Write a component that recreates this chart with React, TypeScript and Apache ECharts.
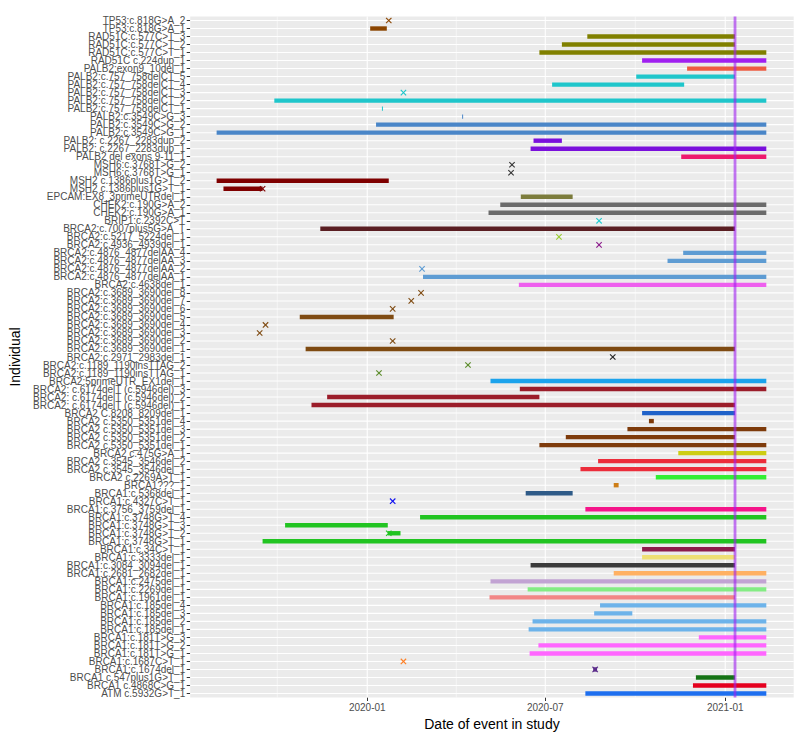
import React, { useEffect, useRef } from 'react';
import * as echarts from 'echarts';

// ---------- data ----------
const labels: string[] = [
  'TP53:c.818G>A_2', 'TP53:c.818G>A_1',
  'RAD51C:c.577C>T_3', 'RAD51C:c.577C>T_2', 'RAD51C:c.577C>T_1',
  'RAD51C c.224dup_1', 'PALB2:exon9_10del_1',
  'PALB2:c.757_758delCT_5', 'PALB2:c.757_758delCT_4', 'PALB2:c.757_758delCT_3',
  'PALB2:c.757_758delCT_2', 'PALB2:c.757_758delCT_1',
  'PALB2:c.3549C>G_3', 'PALB2:c.3549C>G_2', 'PALB2:c.3549C>G_1',
  'PALB2: c.2267_2283dup_2', 'PALB2: c.2267_2283dup_1',
  'PALB2 del exons 9-11_1',
  'MSH6:c.3768T>G_2', 'MSH6:c.3768T>G_1',
  'MSH2 c.1386plus1G>T_2', 'MSH2 c.1386plus1G>T_1',
  'EPCAM:EX8_3primeUTRdel_1',
  'CHEK2:c.190G>A_2', 'CHEK2:c.190G>A_1',
  'BRIP1:c.2392C>T',
  'BRCA2:c.7007plus5G>A_T',
  'BRCA2:c.5217_5224del_1', 'BRCA2:c.4936_4939del_1',
  'BRCA2:c.4876_4877delAA_4', 'BRCA2:c.4876_4877delAA_3',
  'BRCA2:c.4876_4877delAA_2', 'BRCA2:c.4876_4877delAA_1',
  'BRCA2:c.4638del_1',
  'BRCA2:c.3689_3690del_8', 'BRCA2:c.3689_3690del_7', 'BRCA2:c.3689_3690del_6',
  'BRCA2:c.3689_3690del_5', 'BRCA2:c.3689_3690del_4', 'BRCA2:c.3689_3690del_3',
  'BRCA2:c.3689_3690del_2', 'BRCA2:c.3689_3690del_1',
  'BRCA2:c.2971_2983del_1',
  'BRCA2:c.1189_1190insTTAG_2', 'BRCA2:c.1189_1190insTTAG_1',
  'BRCA2:5primeUTR_EX1del_1',
  'BRCA2: c.6174delT (c.5946del)_3', 'BRCA2: c.6174delT (c.5946del)_2',
  'BRCA2: c.6174delT (c.5946del)_1',
  'BRCA2 C.8208_8209del_1',
  'BRCA2 c.5350_5351del_4', 'BRCA2 c.5350_5351del_3',
  'BRCA2 c.5350_5351del_2', 'BRCA2 c.5350_5351del_1',
  'BRCA2 c.475G>A_1',
  'BRCA2 c.3545_3546del_2', 'BRCA2 c.3545_3546del_1',
  'BRCA2 c.2269A>T_1',
  'BRCA1???_1',
  'BRCA1:c.5368del_1', 'BRCA1:c.4327C>T_1', 'BRCA1:c.3756_3759del_1',
  'BRCA1:c.3748G>T_4', 'BRCA1:c.3748G>T_3', 'BRCA1:c.3748G>T_2', 'BRCA1:c.3748G>T_1',
  'BRCA1:c.34C>T_1', 'BRCA1:c.3333del_1', 'BRCA1:c.3084_3094del_1',
  'BRCA1:c.2681_2682del_1', 'BRCA1:c.2475del_1', 'BRCA1:c.2269del_1',
  'BRCA1:c.1961del_1',
  'BRCA1:c.185del_4', 'BRCA1:c.185del_3', 'BRCA1:c.185del_2', 'BRCA1:c.185del_1',
  'BRCA1:c.181T>G_3', 'BRCA1:c.181T>G_2', 'BRCA1:c.181T>G_1',
  'BRCA1:c.1687C>T_1', 'BRCA1:c.1674del_1',
  'BRCA1 c.547plus1G>T_1', 'BRCA1 c.4868C>G_1',
  'ATM c.5932G>T_1',
];

// [individual, start date, end date]
const segments: [string, string, string][] = [
  ['TP53:c.818G>A_1', '2020-01-04', '2020-01-21'],
  ['RAD51C:c.577C>T_3', '2020-08-13', '2021-01-11'],
  ['RAD51C:c.577C>T_2', '2020-07-18', '2021-01-11'],
  ['RAD51C:c.577C>T_1', '2020-06-25', '2021-02-12'],
  ['RAD51C c.224dup_1', '2020-10-08', '2021-02-12'],
  ['PALB2:exon9_10del_1', '2020-11-23', '2021-02-12'],
  ['PALB2:c.757_758delCT_5', '2020-10-02', '2021-01-11'],
  ['PALB2:c.757_758delCT_4', '2020-07-08', '2020-11-20'],
  ['PALB2:c.757_758delCT_2', '2019-09-28', '2021-02-12'],
  ['PALB2:c.757_758delCT_1', '2020-01-16', '2020-01-17'],
  ['PALB2:c.3549C>G_3', '2020-04-07', '2020-04-08'],
  ['PALB2:c.3549C>G_2', '2020-01-10', '2021-02-12'],
  ['PALB2:c.3549C>G_1', '2019-07-31', '2021-02-12'],
  ['PALB2: c.2267_2283dup_2', '2020-06-19', '2020-07-18'],
  ['PALB2: c.2267_2283dup_1', '2020-06-16', '2021-02-12'],
  ['PALB2 del exons 9-11_1', '2020-11-17', '2021-02-12'],
  ['MSH2 c.1386plus1G>T_2', '2019-07-31', '2020-01-23'],
  ['MSH2 c.1386plus1G>T_1', '2019-08-07', '2019-09-16'],
  ['EPCAM:EX8_3primeUTRdel_1', '2020-06-06', '2020-07-29'],
  ['CHEK2:c.190G>A_2', '2020-05-16', '2021-02-12'],
  ['CHEK2:c.190G>A_1', '2020-05-04', '2021-02-12'],
  ['BRCA2:c.7007plus5G>A_T', '2019-11-14', '2021-01-11'],
  ['BRCA2:c.4876_4877delAA_4', '2020-11-19', '2021-02-12'],
  ['BRCA2:c.4876_4877delAA_3', '2020-11-03', '2021-02-12'],
  ['BRCA2:c.4876_4877delAA_1', '2020-02-27', '2021-02-12'],
  ['BRCA2:c.4638del_1', '2020-06-04', '2021-02-12'],
  ['BRCA2:c.3689_3690del_5', '2019-10-24', '2020-01-28'],
  ['BRCA2:c.3689_3690del_1', '2019-10-30', '2021-01-11'],
  ['BRCA2:5primeUTR_EX1del_1', '2020-05-06', '2021-02-12'],
  ['BRCA2: c.6174delT (c.5946del)_3', '2020-06-05', '2021-02-12'],
  ['BRCA2: c.6174delT (c.5946del)_2', '2019-11-21', '2020-06-25'],
  ['BRCA2: c.6174delT (c.5946del)_1', '2019-11-05', '2021-01-11'],
  ['BRCA2 C.8208_8209del_1', '2020-10-08', '2021-01-11'],
  ['BRCA2 c.5350_5351del_4', '2020-10-15', '2020-10-20'],
  ['BRCA2 c.5350_5351del_3', '2020-09-23', '2021-02-12'],
  ['BRCA2 c.5350_5351del_2', '2020-07-22', '2021-01-11'],
  ['BRCA2 c.5350_5351del_1', '2020-06-25', '2021-02-12'],
  ['BRCA2 c.475G>A_1', '2020-11-14', '2021-02-12'],
  ['BRCA2 c.3545_3546del_2', '2020-08-24', '2021-02-12'],
  ['BRCA2 c.3545_3546del_1', '2020-08-06', '2021-02-12'],
  ['BRCA2 c.2269A>T_1', '2020-10-22', '2021-02-12'],
  ['BRCA1???_1', '2020-09-09', '2020-09-14'],
  ['BRCA1:c.5368del_1', '2020-06-11', '2020-07-29'],
  ['BRCA1:c.3756_3759del_1', '2020-08-11', '2021-02-12'],
  ['BRCA1:c.3748G>T_4', '2020-02-24', '2021-02-12'],
  ['BRCA1:c.3748G>T_3', '2019-10-09', '2020-01-22'],
  ['BRCA1:c.3748G>T_2', '2020-01-22', '2020-02-04'],
  ['BRCA1:c.3748G>T_1', '2019-09-16', '2021-02-12'],
  ['BRCA1:c.34C>T_1', '2020-10-08', '2021-01-11'],
  ['BRCA1:c.3333del_1', '2020-10-08', '2021-01-11'],
  ['BRCA1:c.3084_3094del_1', '2020-06-16', '2021-01-11'],
  ['BRCA1:c.2681_2682del_1', '2020-09-09', '2021-02-12'],
  ['BRCA1:c.2475del_1', '2020-05-06', '2021-02-12'],
  ['BRCA1:c.2269del_1', '2020-06-13', '2021-02-12'],
  ['BRCA1:c.1961del_1', '2020-05-05', '2021-01-11'],
  ['BRCA1:c.185del_4', '2020-08-26', '2021-02-12'],
  ['BRCA1:c.185del_3', '2020-08-20', '2020-09-28'],
  ['BRCA1:c.185del_2', '2020-06-18', '2021-02-12'],
  ['BRCA1:c.185del_1', '2020-06-14', '2021-02-12'],
  ['BRCA1:c.181T>G_3', '2020-12-05', '2021-02-12'],
  ['BRCA1:c.181T>G_2', '2020-06-24', '2021-02-12'],
  ['BRCA1:c.181T>G_1', '2020-06-15', '2021-02-12'],
  ['BRCA1:c.1674del_1', '2020-08-19', '2020-08-23'],
  ['BRCA1 c.547plus1G>T_1', '2020-12-02', '2021-01-11'],
  ['BRCA1 c.4868C>G_1', '2020-11-29', '2021-02-12'],
  ['ATM c.5932G>T_1', '2020-08-11', '2021-02-12'],
];

// [individual, date] single events
const events: [string, string][] = [
  ['TP53:c.818G>A_2', '2020-01-23'],
  ['PALB2:c.757_758delCT_3', '2020-02-07'],
  ['MSH6:c.3768T>G_2', '2020-05-28'],
  ['MSH6:c.3768T>G_1', '2020-05-27'],
  ['MSH2 c.1386plus1G>T_1', '2019-09-16'],
  ['BRIP1:c.2392C>T', '2020-08-25'],
  ['BRCA2:c.5217_5224del_1', '2020-07-15'],
  ['BRCA2:c.4936_4939del_1', '2020-08-25'],
  ['BRCA2:c.4876_4877delAA_2', '2020-02-26'],
  ['BRCA2:c.3689_3690del_8', '2020-02-25'],
  ['BRCA2:c.3689_3690del_7', '2020-02-15'],
  ['BRCA2:c.3689_3690del_6', '2020-01-27'],
  ['BRCA2:c.3689_3690del_4', '2019-09-19'],
  ['BRCA2:c.3689_3690del_3', '2019-09-13'],
  ['BRCA2:c.3689_3690del_2', '2020-01-27'],
  ['BRCA2:c.2971_2983del_1', '2020-09-08'],
  ['BRCA2:c.1189_1190insTTAG_2', '2020-04-13'],
  ['BRCA2:c.1189_1190insTTAG_1', '2020-01-13'],
  ['BRCA1:c.4327C>T_1', '2020-01-27'],
  ['BRCA1:c.3748G>T_2', '2020-01-23'],
  ['BRCA1:c.1687C>T_1', '2020-02-07'],
  ['BRCA1:c.1674del_1', '2020-08-21'],
];

// colour of each variant (individual label without its trailing _n)
const variantColors: [string, string][] = [
  ['TP53:c.818G>A', '#8B4500'],
  ['RAD51C:c.577C>T', '#808000'],
  ['RAD51C c.224dup', '#A020F0'],
  ['PALB2:exon9_10del', '#EE5C42'],
  ['PALB2:c.757_758delCT', '#1FC6CB'],
  ['PALB2:c.3549C>G', '#4A86C8'],
  ['PALB2: c.2267_2283dup', '#7A10DC'],
  ['PALB2 del exons 9-11', '#EE1A6E'],
  ['MSH6:c.3768T>G', '#333333'],
  ['MSH2 c.1386plus1G>T', '#7F0000'],
  ['EPCAM:EX8_3primeUTRdel', '#7C7C3C'],
  ['CHEK2:c.190G>A', '#6B6B6B'],
  ['BRIP1:c.2392C>T', '#22CCD0'],
  ['BRCA2:c.7007plus5G>A_T', '#5A1E22'],
  ['BRCA2:c.5217_5224del', '#9ACD32'],
  ['BRCA2:c.4936_4939del', '#8B1A8B'],
  ['BRCA2:c.4876_4877delAA', '#5E9CD3'],
  ['BRCA2:c.4638del', '#EE5FEE'],
  ['BRCA2:c.3689_3690del', '#7F4B12'],
  ['BRCA2:c.2971_2983del', '#222222'],
  ['BRCA2:c.1189_1190insTTAG', '#5B8C2A'],
  ['BRCA2:5primeUTR_EX1del', '#1CA3EC'],
  ['BRCA2: c.6174delT (c.5946del)', '#9B1D2A'],
  ['BRCA2 C.8208_8209del', '#1F62C9'],
  ['BRCA2 c.5350_5351del', '#7E3B0B'],
  ['BRCA2 c.475G>A', '#CDCD14'],
  ['BRCA2 c.3545_3546del', '#EC2D3B'],
  ['BRCA2 c.2269A>T', '#33EE33'],
  ['BRCA1???', '#CD7D16'],
  ['BRCA1:c.5368del', '#2F5B88'],
  ['BRCA1:c.4327C>T', '#1010F0'],
  ['BRCA1:c.3756_3759del', '#F5158A'],
  ['BRCA1:c.3748G>T', '#21C421'],
  ['BRCA1:c.34C>T', '#8E1B4B'],
  ['BRCA1:c.3333del', '#EEDF74'],
  ['BRCA1:c.3084_3094del', '#3B3B3B'],
  ['BRCA1:c.2681_2682del', '#FFB163'],
  ['BRCA1:c.2475del', '#C2A3D3'],
  ['BRCA1:c.2269del', '#84EC84'],
  ['BRCA1:c.1961del', '#F28686'],
  ['BRCA1:c.185del', '#6DB3EA'],
  ['BRCA1:c.181T>G', '#FF66FF'],
  ['BRCA1:c.1687C>T', '#FF7F24'],
  ['BRCA1:c.1674del', '#5D2E8C'],
  ['BRCA1 c.547plus1G>T', '#157315'],
  ['BRCA1 c.4868C>G', '#E5001E'],
  ['ATM c.5932G>T', '#1E6FEF'],
];

const majorBreaks = ['2020-01-01', '2020-07-01', '2021-01-01'];
const minorBreaks = ['2019-10-01', '2020-04-01', '2020-10-01'];
const xLimits = ['2019-07-04', '2021-03-12'];
const cutoffDate = '2021-01-11';

// ---------- helpers ----------
const t = (d: string) => Date.parse(d + 'T00:00:00Z');
const colorMap = new Map(variantColors);
const colorOf = (lab: string) =>
  colorMap.get(lab.replace(/_\d+$/, '')) || colorMap.get(lab) || '#333333';
const rowOf = (lab: string) => labels.indexOf(lab);
const fmt = (v: number) => {
  const d = new Date(v);
  return d.getUTCFullYear() + '-' + String(d.getUTCMonth() + 1).padStart(2, '0');
};

const FONT = '"Liberation Sans", Arial, Helvetica, sans-serif';

export default function App() {
  const ref = useRef<HTMLDivElement>(null);
  useEffect(() => {
    if (!ref.current) return;
    const chart = echarts.init(ref.current, undefined, { renderer: 'svg' });
    const xMin = t(xLimits[0]);
    const xMax = t(xLimits[1]);

    const option: any = {
      animation: false,
      backgroundColor: '#FFFFFF',
      textStyle: { fontFamily: FONT },
      grid: {
        left: 174,
        top: 16.5,
        width: 619.7,
        height: 681,
        show: true,
        backgroundColor: '#EBEBEB',
        borderWidth: 0,
        containLabel: false,
      },
      xAxis: {
        type: 'value',
        min: xMin,
        max: xMax,
        name: 'Date of event in study',
        nameLocation: 'middle',
        nameGap: 17,
        nameTextStyle: { fontSize: 14, color: '#000000', fontFamily: FONT },
        axisLine: { show: false },
        axisTick: {
          show: true,
          customValues: majorBreaks.map(t),
          length: 3.5,
          lineStyle: { color: '#333333', width: 1 },
        },
        axisLabel: {
          customValues: majorBreaks.map(t),
          formatter: (v: number) => fmt(v),
          color: '#4D4D4D',
          fontSize: 10,
          margin: 5,
          fontFamily: FONT,
        },
        splitLine: { show: false },
      },
      yAxis: {
        type: 'category',
        data: labels,
        inverse: true,
        name: 'Individual',
        nameLocation: 'middle',
        nameGap: 160,
        nameTextStyle: { fontSize: 14, color: '#000000', fontFamily: FONT },
        axisLine: { show: false },
        axisTick: {
          show: true,
          alignWithLabel: true,
          length: 3.5,
          lineStyle: { color: '#333333', width: 1 },
        },
        axisLabel: {
          interval: 0,
          color: '#4D4D4D',
          fontSize: 10,
          lineHeight: 7.9,
          margin: 5,
          fontFamily: FONT,
        },
        splitLine: { show: false },
      },
      series: [
        {
          // vertical grid lines
          type: 'custom',
          z: 1,
          silent: true,
          data: [
            ...minorBreaks.map((d) => [t(d), 0, 0]),
            ...majorBreaks.map((d) => [t(d), 0, 1]),
          ],
          encode: { x: 0, y: 1 },
          renderItem: (params: any, api: any) => {
            const p = api.coord([api.value(0), 0]);
            const cs = params.coordSys;
            const major = api.value(2) === 1;
            return {
              type: 'line',
              shape: { x1: p[0], y1: cs.y, x2: p[0], y2: cs.y + cs.height },
              style: { stroke: '#FFFFFF', lineWidth: major ? 1.07 : 0.53 },
            };
          },
        },
        {
          // horizontal grid lines at each individual
          type: 'custom',
          z: 1,
          silent: true,
          data: labels.map((_, i) => [xMin, i]),
          encode: { x: 0, y: 1 },
          renderItem: (params: any, api: any) => {
            const p = api.coord([api.value(0), api.value(1)]);
            const cs = params.coordSys;
            return {
              type: 'line',
              shape: { x1: cs.x, y1: p[1], x2: cs.x + cs.width, y2: p[1] },
              style: { stroke: '#FFFFFF', lineWidth: 1.07 },
            };
          },
        },
        {
          // time segments
          type: 'custom',
          z: 3,
          data: segments.map(([lab, s, e]) => ({
            value: [t(s), rowOf(lab), t(e)],
            itemStyle: { color: colorOf(lab) },
          })),
          encode: { x: [0, 2], y: 1 },
          renderItem: (params: any, api: any) => {
            const a = api.coord([api.value(0), api.value(1)]);
            const b = api.coord([api.value(2), api.value(1)]);
            const h = 4.4;
            return {
              type: 'rect',
              shape: { x: a[0], y: a[1] - h / 2, width: Math.max(b[0] - a[0], 1), height: h },
              style: { fill: api.visual('color') },
            };
          },
        },
        {
          // single events (x marks)
          type: 'custom',
          z: 4,
          data: events.map(([lab, d]) => ({
            value: [t(d), rowOf(lab)],
            itemStyle: { color: colorOf(lab) },
          })),
          encode: { x: 0, y: 1 },
          renderItem: (params: any, api: any) => {
            const p = api.coord([api.value(0), api.value(1)]);
            const r = 2.7;
            const c = api.visual('color');
            return {
              type: 'group',
              children: [
                { type: 'line', shape: { x1: p[0] - r, y1: p[1] - r, x2: p[0] + r, y2: p[1] + r }, style: { stroke: c, lineWidth: 1.1 } },
                { type: 'line', shape: { x1: p[0] - r, y1: p[1] + r, x2: p[0] + r, y2: p[1] - r }, style: { stroke: c, lineWidth: 1.1 } },
              ],
            };
          },
        },
        {
          // study cut-off line
          type: 'custom',
          z: 5,
          silent: true,
          data: [[t(cutoffDate), 0]],
          encode: { x: 0, y: 1 },
          renderItem: (params: any, api: any) => {
            const p = api.coord([api.value(0), 0]);
            const cs = params.coordSys;
            return {
              type: 'line',
              shape: { x1: p[0], y1: cs.y, x2: p[0], y2: cs.y + cs.height },
              style: { stroke: '#A020F0', opacity: 0.6, lineWidth: 2.8 },
            };
          },
        },
      ],
    };
    chart.setOption(option);
    return () => chart.dispose();
  }, []);

  return (
    <div
      ref={ref}
      style={{ position: 'fixed', left: 0, top: 0, width: 798, height: 741, background: '#FFFFFF' }}
    />
  );
}
